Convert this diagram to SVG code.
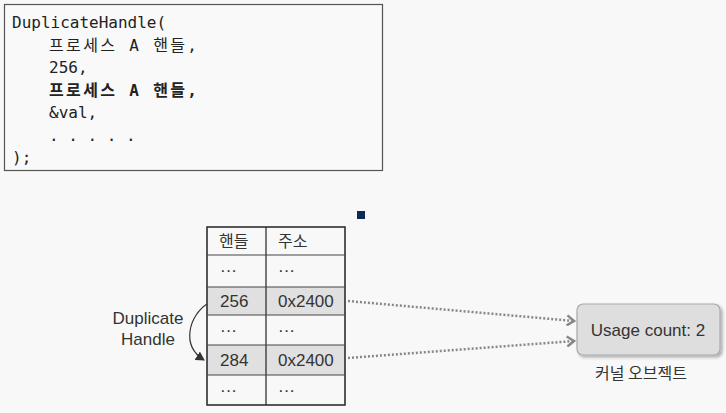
<svg xmlns="http://www.w3.org/2000/svg" width="726" height="413" viewBox="0 0 726 413">
<style>
.code{font-family:"DejaVu Sans Mono","Noto Sans CJK KR",monospace;font-size:16px;fill:#222}
.t{font-family:"Liberation Sans","Noto Sans CJK KR",sans-serif;font-size:17px;fill:#333}
.k{font-family:"Noto Sans CJK KR",sans-serif;font-size:16px;fill:#333}
.conn{fill:none;stroke:#888;stroke-width:2.5;stroke-dasharray:2 2}
</style>
<defs>
<marker id="chev" markerWidth="10" markerHeight="12" refX="8" refY="6" orient="auto" markerUnits="userSpaceOnUse">
<path d="M1,1 L8,6 L1,11" fill="none" stroke="#888" stroke-width="2.5"/>
</marker>
<marker id="tri" markerWidth="10" markerHeight="10" refX="8" refY="5" orient="auto" markerUnits="userSpaceOnUse">
<path d="M0,0 L9,5 L0,10 Z" fill="#333"/>
</marker>
<filter id="sh" x="-10%" y="-10%" width="130%" height="140%">
<feDropShadow dx="2" dy="2" stdDeviation="1.5" flood-color="#000" flood-opacity="0.3"/>
</filter>
</defs>
<rect width="726" height="413" fill="#f8f8f8"/>
<g id="code">
<rect x="4.5" y="4.5" width="378" height="166" fill="#f9f9f9" stroke="#555" stroke-width="1.2"/>
<text class="code" x="12" y="28">DuplicateHandle(</text>
<text class="code" x="49" y="51" textLength="148" lengthAdjust="spacing">프로세스 A 핸들,</text>
<text class="code" x="49" y="73">256,</text>
<text class="code" x="49" y="96" font-weight="bold" textLength="148" lengthAdjust="spacing">프로세스 A 핸들,</text>
<text class="code" x="49" y="118">&amp;val,</text>
<text class="code" x="49" y="141">. . . . .</text>
<text class="code" x="12" y="163">);</text>
</g>
<rect x="357" y="211" width="8" height="8" fill="#0d2a52"/>
<g id="table">
<rect x="207" y="287" width="138" height="28" fill="#e0e0e0"/>
<rect x="207" y="345" width="138" height="30" fill="#e0e0e0"/>
<rect x="207" y="227" width="138" height="178" fill="none" stroke="#222" stroke-width="1.5"/>
<line x1="266" y1="227" x2="266" y2="405" stroke="#222" stroke-width="1.2"/>
<g stroke="#444" stroke-width="1">
<line x1="207" y1="255" x2="345" y2="255"/>
<line x1="207" y1="287" x2="345" y2="287"/>
<line x1="207" y1="315" x2="345" y2="315"/>
<line x1="207" y1="345" x2="345" y2="345"/>
<line x1="207" y1="375" x2="345" y2="375"/>
</g>
<text class="k" x="219" y="247">핸들</text>
<text class="k" x="278" y="247">주소</text>
<text class="t" x="220" y="276">···</text>
<text class="t" x="278" y="276">···</text>
<text class="t" x="220" y="307">256</text>
<text class="t" x="278" y="307">0x2400</text>
<text class="t" x="220" y="336">···</text>
<text class="t" x="278" y="336">···</text>
<text class="t" x="220" y="366">284</text>
<text class="t" x="278" y="366">0x2400</text>
<text class="t" x="220" y="396">···</text>
<text class="t" x="278" y="396">···</text>
</g>
<g id="kernel">
<rect x="577" y="304" width="143" height="51" rx="6" fill="#dedede" stroke="#aaa" stroke-width="1.2" filter="url(#sh)"/>
<text class="t" x="648" y="336" text-anchor="middle">Usage count: 2</text>
<text class="k" x="641" y="379" text-anchor="middle">커널 오브젝트</text>
</g>
<g id="label">
<text class="t" x="148" y="324" text-anchor="middle">Duplicate</text>
<text class="t" x="148" y="345" text-anchor="middle">Handle</text>
</g>
<g id="connectors">
<path class="conn" d="M348,301 L574,321" marker-end="url(#chev)"/>
<path class="conn" d="M348,358 L574,341" marker-end="url(#chev)"/>
<path d="M207,304 C190,315 180,345 204,360" fill="none" stroke="#333" stroke-width="1.2" marker-end="url(#tri)"/>
</g>
</svg>
